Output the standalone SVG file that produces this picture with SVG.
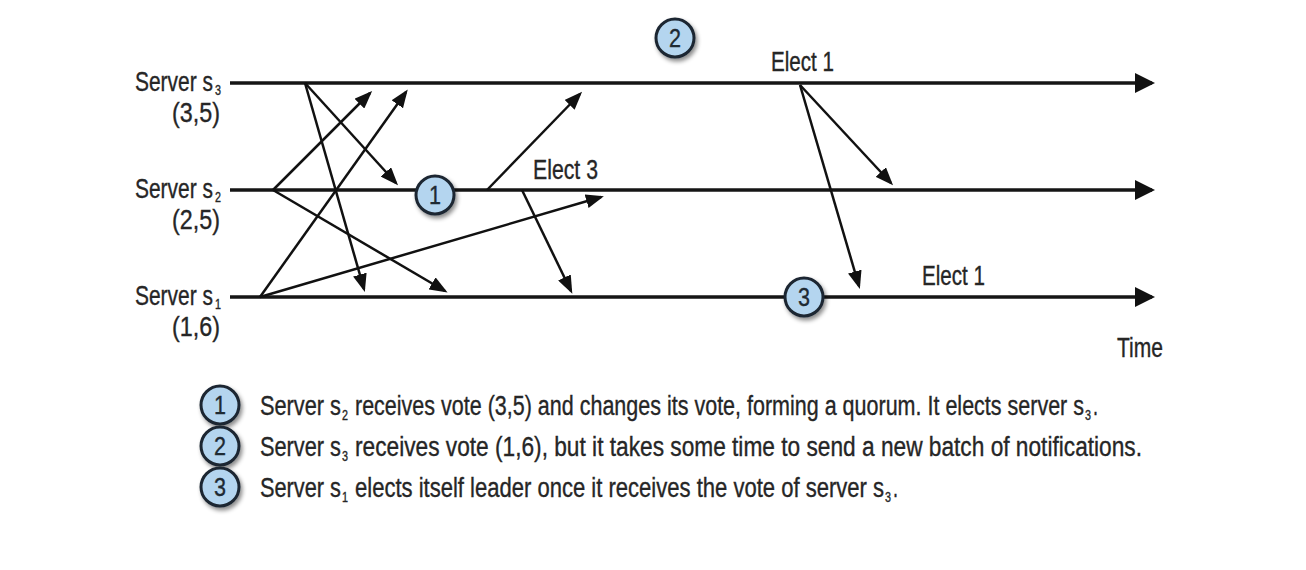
<svg xmlns="http://www.w3.org/2000/svg" width="1306" height="570" viewBox="0 0 1306 570">
<style>
  text { font-family: "Liberation Sans", Arial, sans-serif; fill: #262626; stroke: #262626; stroke-width: 0.35; }
  .lbl { font-size: 27px; }
  .sub { font-size: 14px; }
  .num { font-size: 26px; text-anchor: middle; fill: #1e2a33; stroke: #1e2a33; }
  .timeline { stroke: #151515; stroke-width: 3.5; fill: none; }
  .msg { stroke: #111; stroke-width: 2.5; fill: none; marker-end: url(#ah); }
  .badge { fill: #b4d5ef; stroke: #1b2631; stroke-width: 3; filter: url(#sh); }
</style>
<defs>
  <marker id="ah" markerUnits="userSpaceOnUse" viewBox="0 0 18 14" markerWidth="18" markerHeight="14" refX="15" refY="7" orient="auto">
    <path d="M0,0 L18,7 L0,14 z" fill="#111"/>
  </marker>
  <marker id="th" markerUnits="userSpaceOnUse" viewBox="0 0 20 20" markerWidth="20" markerHeight="20" refX="17" refY="10" orient="auto">
    <path d="M0,0 L20,10 L0,20 z" fill="#111"/>
  </marker>
  <filter id="sh" x="-40%" y="-40%" width="190%" height="190%">
    <feDropShadow dx="2" dy="3" stdDeviation="2" flood-color="#000" flood-opacity="0.45"/>
  </filter>
</defs>
<rect width="1306" height="570" fill="#fff"/>

<g id="timelines">
  <line class="timeline" x1="230" y1="83" x2="1152" y2="83" marker-end="url(#th)"/>
  <line class="timeline" x1="230" y1="190" x2="1152" y2="190" marker-end="url(#th)"/>
  <line class="timeline" x1="230" y1="297" x2="1152" y2="297" marker-end="url(#th)"/>
</g>

<g id="server-s3">
  <text class="lbl" x="135" y="91" textLength="78" lengthAdjust="spacingAndGlyphs">Server s</text>
  <text class="sub" x="215" y="95" textLength="6" lengthAdjust="spacingAndGlyphs">3</text>
  <text class="lbl" x="220" y="122" text-anchor="end" textLength="48" lengthAdjust="spacingAndGlyphs">(3,5)</text>
</g>
<g id="server-s2">
  <text class="lbl" x="135" y="198" textLength="78" lengthAdjust="spacingAndGlyphs">Server s</text>
  <text class="sub" x="215" y="202" textLength="6" lengthAdjust="spacingAndGlyphs">2</text>
  <text class="lbl" x="220" y="229" text-anchor="end" textLength="48" lengthAdjust="spacingAndGlyphs">(2,5)</text>
</g>
<g id="server-s1">
  <text class="lbl" x="135" y="305" textLength="78" lengthAdjust="spacingAndGlyphs">Server s</text>
  <text class="sub" x="215" y="309" textLength="6" lengthAdjust="spacingAndGlyphs">1</text>
  <text class="lbl" x="220" y="336" text-anchor="end" textLength="48" lengthAdjust="spacingAndGlyphs">(1,6)</text>
</g>

<g id="connectors">
  <line class="msg" x1="305" y1="83" x2="396" y2="183"/>
  <line class="msg" x1="305" y1="83" x2="364" y2="289"/>
  <line class="msg" x1="273" y1="190" x2="370" y2="93"/>
  <line class="msg" x1="273" y1="190" x2="445" y2="291"/>
  <line class="msg" x1="260" y1="297" x2="406" y2="92"/>
  <line class="msg" x1="260" y1="297" x2="601" y2="197"/>
  <line class="msg" x1="487" y1="190" x2="580" y2="94"/>
  <line class="msg" x1="522" y1="190" x2="571" y2="291"/>
  <line class="msg" x1="800" y1="85" x2="891" y2="183"/>
  <line class="msg" x1="800" y1="85" x2="859" y2="286"/>
</g>

<g id="label-elect3">
  <text class="lbl" x="533" y="179" textLength="65" lengthAdjust="spacingAndGlyphs">Elect 3</text>
</g>
<g id="label-elect1-s3">
  <text class="lbl" x="771" y="71" textLength="63" lengthAdjust="spacingAndGlyphs">Elect 1</text>
</g>
<g id="label-elect1-s1">
  <text class="lbl" x="922" y="285" textLength="63" lengthAdjust="spacingAndGlyphs">Elect 1</text>
</g>
<g id="label-time">
  <text class="lbl" x="1117" y="357" textLength="46" lengthAdjust="spacingAndGlyphs">Time</text>
</g>

<g id="badge-1">
  <circle class="badge" cx="435" cy="195" r="19"/>
  <text class="num" x="435" y="204" textLength="12" lengthAdjust="spacingAndGlyphs">1</text>
</g>
<g id="badge-2">
  <circle class="badge" cx="675" cy="38" r="19"/>
  <text class="num" x="675" y="47" textLength="12" lengthAdjust="spacingAndGlyphs">2</text>
</g>
<g id="badge-3">
  <circle class="badge" cx="804" cy="297" r="19"/>
  <text class="num" x="804" y="306" textLength="12" lengthAdjust="spacingAndGlyphs">3</text>
</g>

<g id="legend-1">
  <circle class="badge" cx="220" cy="405" r="19"/>
  <text class="num" x="220" y="414" textLength="12" lengthAdjust="spacingAndGlyphs">1</text>
  <text class="lbl" x="260" y="415" textLength="81" lengthAdjust="spacingAndGlyphs">Server s</text>
  <text class="sub" x="342" y="420" textLength="6" lengthAdjust="spacingAndGlyphs">2</text>
  <text class="lbl" x="355" y="415" textLength="729" lengthAdjust="spacingAndGlyphs">receives vote (3,5) and changes its vote, forming a quorum. It elects server s</text>
  <text class="sub" x="1085" y="420" textLength="6" lengthAdjust="spacingAndGlyphs">3</text>
  <text class="lbl" x="1093" y="415" textLength="5" lengthAdjust="spacingAndGlyphs">.</text>
</g>
<g id="legend-2">
  <circle class="badge" cx="220" cy="446" r="19"/>
  <text class="num" x="220" y="455" textLength="12" lengthAdjust="spacingAndGlyphs">2</text>
  <text class="lbl" x="260" y="456" textLength="81" lengthAdjust="spacingAndGlyphs">Server s</text>
  <text class="sub" x="342" y="461" textLength="6" lengthAdjust="spacingAndGlyphs">3</text>
  <text class="lbl" x="355" y="456" textLength="787" lengthAdjust="spacingAndGlyphs">receives vote (1,6), but it takes some time to send a new batch of notifications.</text>
</g>
<g id="legend-3">
  <circle class="badge" cx="220" cy="487" r="19"/>
  <text class="num" x="220" y="496" textLength="12" lengthAdjust="spacingAndGlyphs">3</text>
  <text class="lbl" x="260" y="497" textLength="81" lengthAdjust="spacingAndGlyphs">Server s</text>
  <text class="sub" x="342" y="502" textLength="6" lengthAdjust="spacingAndGlyphs">1</text>
  <text class="lbl" x="355" y="497" textLength="529" lengthAdjust="spacingAndGlyphs">elects itself leader once it receives the vote of server s</text>
  <text class="sub" x="885" y="502" textLength="6" lengthAdjust="spacingAndGlyphs">3</text>
  <text class="lbl" x="893" y="497" textLength="5" lengthAdjust="spacingAndGlyphs">.</text>
</g>
</svg>
